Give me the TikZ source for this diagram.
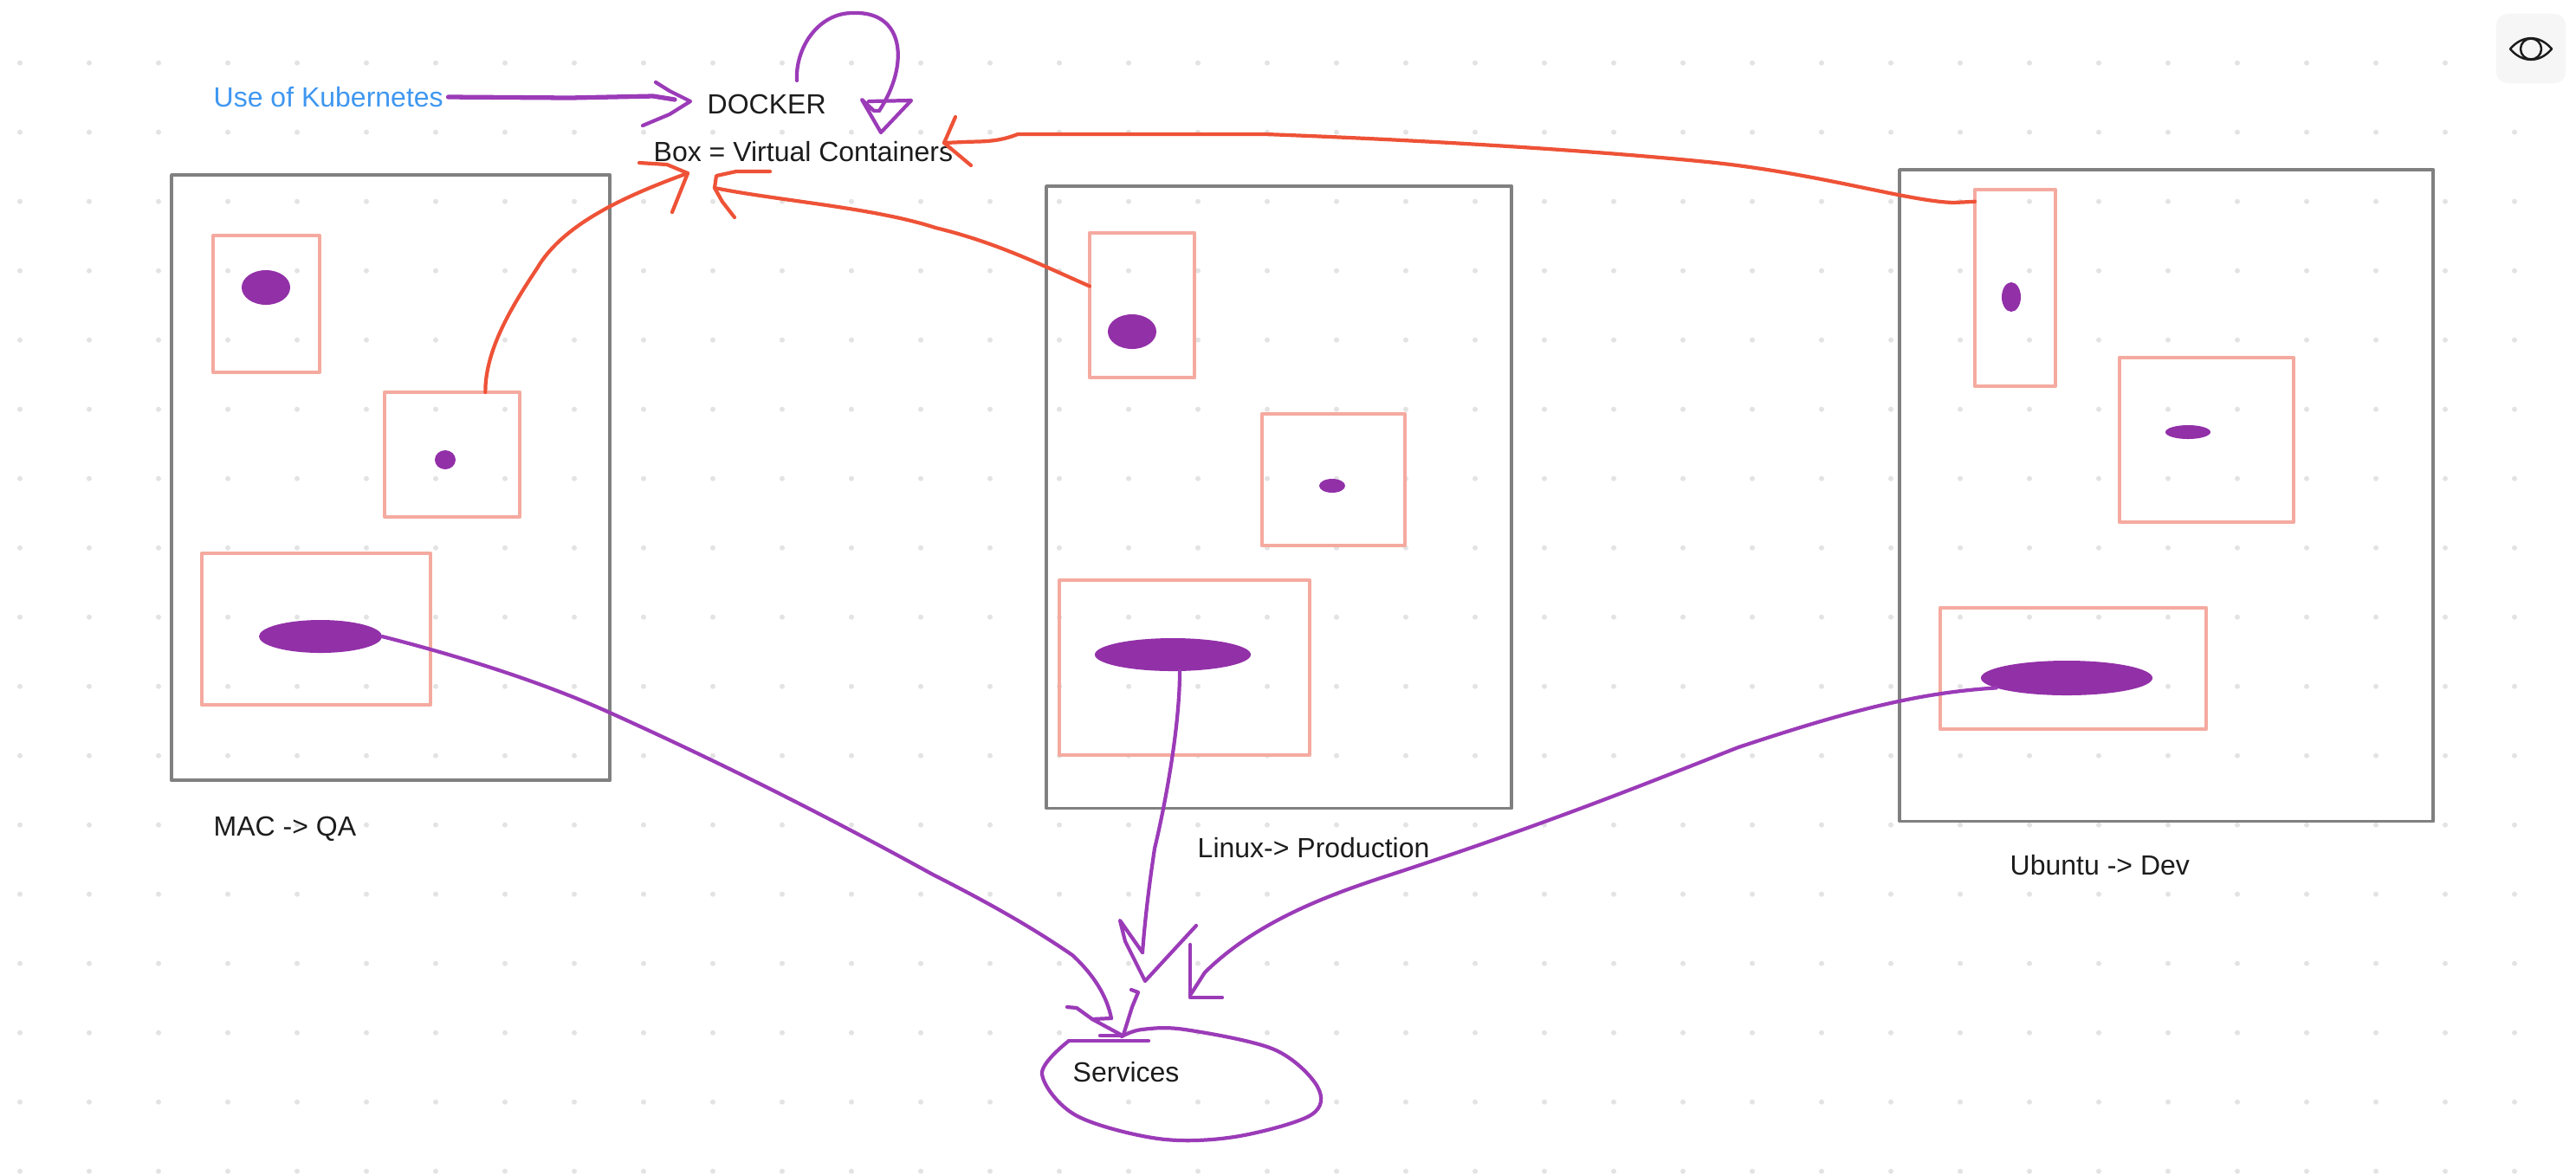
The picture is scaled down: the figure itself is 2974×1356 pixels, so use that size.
\documentclass[tikz,border=0pt]{standalone}
\usepackage{fontspec}
\setmainfont{Liberation Sans}
\usetikzlibrary{shapes.geometric,positioning}
\definecolor{hostgray}{HTML}{808080}
\definecolor{boxpink}{HTML}{F5AAA0}
\definecolor{appfill}{HTML}{9230A8}
\definecolor{penpurple}{HTML}{9B3BB8}
\definecolor{penred}{HTML}{EE5237}
\definecolor{linkblue}{HTML}{3F97F0}
\definecolor{griddot}{HTML}{E3E3E3}
\definecolor{panelgray}{HTML}{F6F6F6}
\definecolor{inkblack}{HTML}{1C1C1C}

\begin{document}
\begin{tikzpicture}[x=0.01cm, y=-0.01cm, line cap=round, line join=round]
	\tikzstyle{hostbox}=[draw=hostgray,line width=1.1pt,anchor=north west,inner sep=0,outer sep=0]
	\tikzstyle{vmbox}=[draw=boxpink,line width=1.2pt,anchor=north west,inner sep=0,outer sep=0]
	\tikzstyle{app}=[ellipse,fill=appfill,inner sep=0,outer sep=0]
	\tikzstyle{caption}=[anchor=west,inner sep=0.05cm,text=inkblack,font=\fontsize{9.1}{11}\selectfont]
	\tikzstyle{purplepen}=[draw=penpurple,line width=1.2pt]
	\tikzstyle{redpen}=[draw=penred,line width=1.2pt]

	\useasboundingbox (0,0) rectangle (2974,1356);
	\fill[white] (0,0) rectangle (2974,1356);
	\foreach \col in {0,...,36}
		\foreach \row in {0,...,16}
			\fill[griddot] ({23+80*\col},{72.7+80*\row}) circle (0.03cm);

	\node[rectangle,rounded corners=0.13cm,fill=panelgray,minimum width=0.8cm,minimum height=0.8cm,inner sep=0] (panel) at (2922,56) {};
	\draw[draw=inkblack,line width=0.7pt] (2898,56.5) .. controls (2912,40) and (2932,40) .. (2946,56.5) .. controls (2932,73) and (2912,73) .. cycle;
	\draw[draw=inkblack,line width=0.7pt] (2922,56.5) circle (0.12cm);

	\node[hostbox,minimum width=5.06cm,minimum height=6.99cm]  (mac)   at (198,202)  {};
	\node[hostbox,minimum width=5.37cm,minimum height=7.18cm]  (linux) at (1208,215) {};
	\node[hostbox,minimum width=6.16cm,minimum height=7.52cm]  (ubuntu) at (2193,196) {};

	\node[vmbox,minimum width=1.23cm,minimum height=1.58cm] (maca) at (246,272) {};
	\node[vmbox,minimum width=1.56cm,minimum height=1.44cm] (macb) at (444,453) {};
	\node[vmbox,minimum width=2.64cm,minimum height=1.75cm] (macc) at (233,639) {};
	\node[vmbox,minimum width=1.21cm,minimum height=1.67cm] (linuxa) at (1258,269) {};
	\node[vmbox,minimum width=1.65cm,minimum height=1.52cm] (linuxb) at (1457,478) {};
	\node[vmbox,minimum width=2.89cm,minimum height=2.02cm] (linuxc) at (1223,670) {};
	\node[vmbox,minimum width=0.93cm,minimum height=2.27cm] (ubuntua) at (2280,219) {};
	\node[vmbox,minimum width=2.01cm,minimum height=1.90cm] (ubuntub) at (2447,413) {};
	\node[vmbox,minimum width=3.07cm,minimum height=1.40cm] (ubuntuc) at (2240,702) {};

	\node[app,minimum width=0.56cm,minimum height=0.40cm] (appmaca) at (307,332) {};
	\node[app,minimum width=0.24cm,minimum height=0.22cm] (appmacb) at (514,531) {};
	\node[app,minimum width=1.42cm,minimum height=0.38cm] (appmacc) at (370,735) {};
	\node[app,minimum width=0.56cm,minimum height=0.40cm] (applinuxa) at (1307,383) {};
	\node[app,minimum width=0.30cm,minimum height=0.16cm] (applinuxb) at (1538,561) {};
	\node[app,minimum width=1.80cm,minimum height=0.38cm] (applinuxc) at (1354,756) {};
	\node[app,minimum width=0.22cm,minimum height=0.34cm] (appubuntua) at (2322,343) {};
	\node[app,minimum width=0.52cm,minimum height=0.16cm] (appubuntub) at (2526,499) {};
	\node[app,minimum width=1.98cm,minimum height=0.40cm] (appubuntuc) at (2386,783) {};

	\node[caption,text=linkblue] (kube)  at (241,112)  {Use of Kubernetes};
	\node[caption] (docker)   at (811,120)  {DOCKER};
	\node[caption] (boxnote)  at (749,175)  {Box = Virtual Containers};
	\node[caption] (maclabel) at (241,957)  {MAC -> QA};
	\node[caption] (linuxlabel) at (1377,979) {Linux-> Production};
	\node[caption] (ubuntulabel) at (2315,999) {Ubuntu -> Dev};
	\node[caption] (services) at (1233,1238) {Services};

	\coordinate (kubetip)    at (779,115);
	\coordinate (dockertip)  at (797,117);
	\coordinate (loopstart)  at (920,93);
	\coordinate (looptip)    at (1015,128);
	\coordinate (mactip)     at (794,200);
	\coordinate (linuxtip)   at (825,217);
	\coordinate (ubuntutip)  at (1090,165);
	\coordinate (qatip)      at (1283,1176);
	\coordinate (prodtip)    at (1319,1100);
	\coordinate (devtip)     at (1375,1148);

	\draw[purplepen,line width=1.5pt] (kube.east) -- (658,113) -- (754,111) -- (kubetip);
	\draw[purplepen] (757,95) -- (773,105) -- (dockertip) -- (773,132) -- (742,145);

	\draw[purplepen] (loopstart) .. controls (918,55) and (945,15) .. (984,15) .. controls (1045,12) and (1050,75) .. (looptip);
	\draw[purplepen] (1003,117) -- (1052,116) -- (1017,153) -- (995,115) -- (1009,128) -- (looptip);

	\draw[redpen] (macb.62.5) .. controls (560,405) and (590,355) .. (620,310) .. controls (650,258) and (725,225) .. (mactip);
	\draw[redpen] (738,188) -- (770,190) -- (mactip) -- (776,245);

	\draw[redpen] (linuxa.160.6) .. controls (1200,305) and (1150,280) .. (1080,263) .. controls (1010,240) and (900,232) .. (linuxtip);
	\draw[redpen] (889,198) -- (850,198) -- (827,203) -- (linuxtip) -- (834,233) -- (848,251);

	\draw[redpen] (ubuntua.115.2) -- (2255,234) .. controls (2200,232) and (2100,200) .. (1971,187) .. controls (1840,174) and (1650,162) .. (1461,155) -- (1175,155) .. controls (1150,165) and (1130,163) .. (1113,164) -- (ubuntutip);
	\draw[redpen] (1103,135) -- (ubuntutip) -- (1121,191);

	\draw[purplepen] (appmacc.east) .. controls (520,755) and (620,785) .. (704,823) .. controls (830,880) and (950,940) .. (1077,1010) .. controls (1140,1042) and (1190,1070) .. (1238,1103) .. controls (1262,1125) and (1278,1150) .. (qatip);
	\draw[purplepen] (qatip) -- (1261,1177);
	\draw[purplepen] (1232,1163) -- (1243,1164) -- (1261,1177) -- (1296,1196);
	\draw[purplepen] (1306,1143) -- (1314,1146) -- (1307,1163) -- (1297,1195);
	\draw[purplepen] (1270,1196) -- (1296,1196);

	\draw[purplepen] (applinuxc.-67) .. controls (1362,840) and (1345,930) .. (1333,980) .. controls (1327,1020) and (1322,1060) .. (prodtip);
	\draw[purplepen] (prodtip) -- (1293,1063) -- (1299,1087) -- (1322,1133) -- (1381,1069);

	\draw[purplepen] (appubuntuc.188.4) .. controls (2210,800) and (2125,824) .. (2007,863) .. controls (1900,905) and (1790,950) .. (1597,1013) .. controls (1530,1035) and (1450,1065) .. (1391,1123) -- (devtip);
	\draw[purplepen] (1374,1091) -- (1374,1152) -- (1411,1152);

	\draw[purplepen] (1326,1202) -- (1234,1202);
	\draw[purplepen] plot[smooth,tension=0.55] coordinates {(1234,1202) (1203,1240) (1242,1288) (1337,1315) (1425,1313) (1513,1288) (1521,1255) (1471,1212) (1368,1189) (1318,1189) (1295,1197)};
\end{tikzpicture}
\end{document}
